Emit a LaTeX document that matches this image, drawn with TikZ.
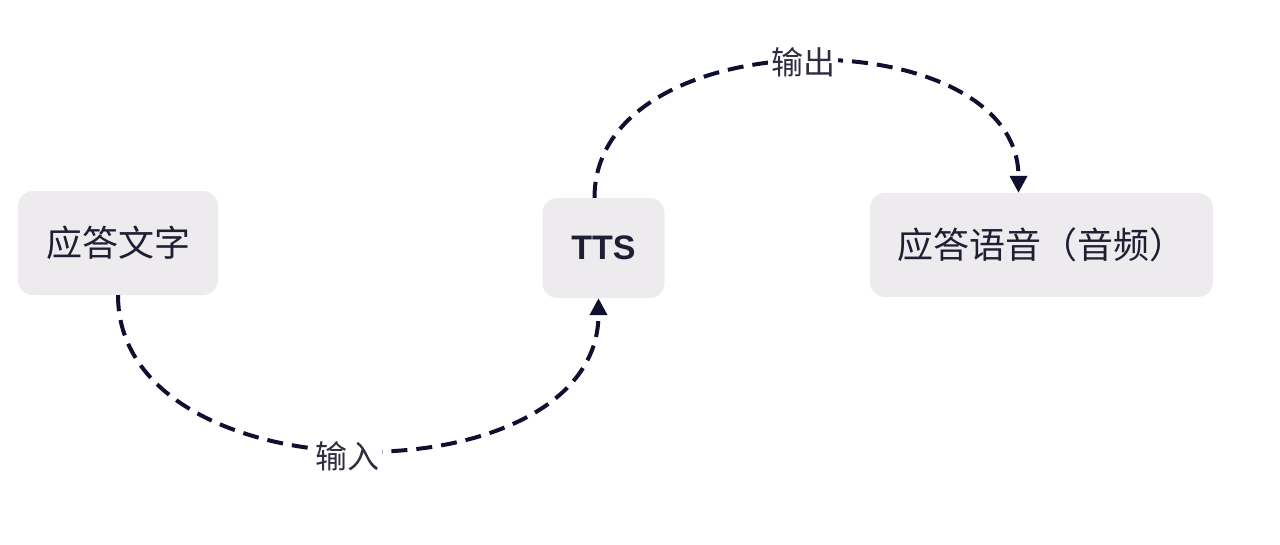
\documentclass[tikz,border=0pt]{standalone}
\usepackage{fontspec}
\setmainfont{Noto Sans CJK SC}
\newfontfamily\latinfont{Liberation Sans}
\usetikzlibrary{arrows.meta}
\definecolor{boxfill}{HTML}{EDEBEE}
\definecolor{linecol}{HTML}{0F1030}
\definecolor{txtcol}{HTML}{1F1F33}
\definecolor{lblcol}{HTML}{2E2E40}
\tikzset{
  box/.style={rounded corners=15pt, fill=boxfill, text=txtcol, align=center, inner sep=0pt, font=\fontsize{36}{40}\selectfont},
  flow/.style={draw=linecol, line width=4pt, dash pattern=on 16pt off 9pt, -{Triangle[length=17pt,width=17pt]}},
  lbl/.style={fill=white, text=lblcol, inner sep=3pt, font=\fontsize{32}{36}\selectfont}
}
\begin{document}
\begin{tikzpicture}[x=1pt,y=-1pt]
\useasboundingbox (0,0) rectangle (1280,544);
\node[box, minimum width=200pt, minimum height=104pt] (txt) at (118,243) {应答文字};
\node[box, minimum width=122pt, minimum height=100pt, font=\latinfont\bfseries\fontsize{34}{38}\selectfont] (tts) at (603.5,248) {TTS};
\node[box, minimum width=343pt, minimum height=104pt] (out) at (1041.5,245) {应答语音（音频）};
\draw[flow] (txt.south) .. controls +(0,205) and +(0,203) .. node[lbl, pos=0.485, yshift=-7pt] (in) {输入} ([xshift=-5pt]tts.south);
\draw[flow] ([xshift=-9pt]tts.north) .. controls +(0,-181) and +(0,-175) .. node[lbl, pos=0.495] (outl) {输出} ([xshift=-23pt]out.north);
\end{tikzpicture}
\end{document}
